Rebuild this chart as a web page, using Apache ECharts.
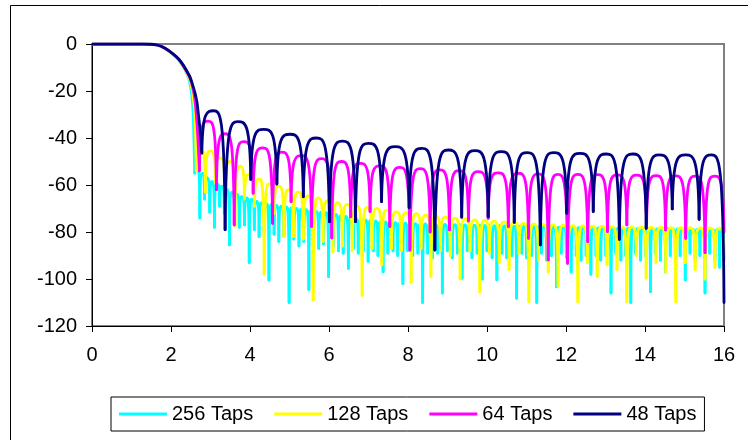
<!DOCTYPE html>
<html>
<head>
<meta charset="utf-8">
<script src="https://cdn.jsdelivr.net/npm/echarts@6/dist/echarts.min.js"></script>
<style>
  html, body { margin: 0; padding: 0; background: #fff; }
  #chart { width: 748px; height: 440px; }
</style>
</head>
<body>
<div id="chart"></div>
<script>
// Filter magnitude responses (dB) versus frequency for four tap counts.
// Each response = a pass-band/roll-off trace plus a train of stop-band lobes.
// Lobes are given by their null positions/levels and the peak level between nulls.

var seriesNames = ['256 Taps', '128 Taps', '64 Taps', '48 Taps'];
var seriesColors = ['#00FFFF', '#FFFF00', '#FF00FF', '#000080'];
var xTicks = [0, 2, 4, 6, 8, 10, 12, 14, 16];
var yTicks = [-120, -100, -80, -60, -40, -20, 0];

// ---- 48 taps ----
var t48EdgeX = [0, 0.5, 1.0, 1.3, 1.64, 1.85, 2.06, 2.2, 2.31, 2.4, 2.48, 2.55, 2.61, 2.66, 2.69, 2.72, 2.75, 2.78];
var t48EdgeY = [0, 0, 0, 0, -0.4, -1.8, -4.3, -6.5, -9, -11.5, -14, -17.5, -21, -25, -29.5, -34, -40, -46.5];
var t48NullX = [2.78, 3.37, 4.02, 4.68, 5.35, 6.01, 6.67, 7.33, 8.03, 8.68, 9.36, 10.03, 10.69, 11.35, 12.02, 12.69, 13.35, 14.03, 14.69, 15.37, 16.0];
var t48NullY = [-46.5, -79, -57.6, -59.6, -65, -75.6, -75.6, -67.1, -69.6, -87.7, -73.7, -73.5, -75.9, -85.5, -72, -71.3, -83.1, -78.4, -70.2, -74.6, -110];
var t48PeakY = [-28.4, -33, -36.3, -38.4, -40, -41.3, -42.3, -43.7, -44.4, -45.1, -45.4, -45.8, -46.2, -46.2, -46.5, -46.8, -46.8, -47.2, -47.2, -47.2];

// ---- 64 taps ----
var t64EdgeX = [0, 0.5, 1.0, 1.3, 1.64, 1.85, 2.06, 2.2, 2.31, 2.4, 2.48, 2.55, 2.6, 2.64, 2.68, 2.72];
var t64EdgeY = [0, 0, 0, 0, -0.4, -1.8, -4.4, -6.6, -9.2, -11.8, -14.5, -18.5, -23, -30, -40, -54];
var t64NullX = [2.72, 3.15, 3.60, 4.08, 4.57, 5.04, 5.56, 6.07, 6.55, 7.04, 7.54, 8.05, 8.56, 9.05, 9.53, 10.03, 10.54, 11.05, 11.55, 12.04, 12.55, 13.05, 13.54, 14.04, 14.52, 15.03, 15.52, 16.0];
var t64NullY = [-54, -62, -77, -63.5, -76.3, -67.1, -77.7, -82.5, -73.5, -71.3, -77.7, -87.7, -80, -79.1, -75.3, -74.2, -77.7, -82.7, -91.9, -93.3, -84.1, -79.8, -77, -77, -79.1, -82.7, -88.8, -80];
var t64PeakY = [-32.8, -38.2, -41.5, -44.2, -46, -47.5, -48.8, -50, -50.8, -51.9, -52.5, -53, -53.6, -53.9, -54.3, -54.8, -55, -55.3, -55.5, -55.5, -55.6, -55.7, -55.8, -56, -56.1, -56.2, -56.2];

// ---- 128 taps ----
var t128EdgeX = [0, 0.5, 1.0, 1.3, 1.64, 1.85, 2.06, 2.2, 2.31, 2.4, 2.48, 2.54, 2.59, 2.62, 2.64];
var t128EdgeY = [0, 0, 0, 0, -0.4, -1.9, -4.6, -6.8, -9.6, -12.3, -15.5, -20, -27, -38, -54];
var t128NullX = [2.64, 2.87, 3.12, 3.37, 3.62, 3.86, 4.11, 4.36, 4.61, 4.86, 5.10, 5.35, 5.60, 5.85, 6.10, 6.34, 6.59, 6.84, 7.09, 7.34,
  7.58, 7.83, 8.08, 8.33, 8.58, 8.82, 9.07, 9.32, 9.57, 9.82, 10.06, 10.31, 10.56, 10.81, 11.06, 11.30, 11.55, 11.80, 12.05, 12.30,
  12.54, 12.79, 13.04, 13.29, 13.54, 13.78, 14.03, 14.28, 14.53, 14.78, 15.02, 15.27, 15.52, 15.77, 16.0];
var t128NullY = [-54, -63, -59, -66, -77.5, -66, -69, -98, -72, -82, -82, -83, -109, -84, -88.5, -86, -88, -107, -87, -94,
  -87, -88, -101.5, -87, -99, -88, -90, -100, -88, -105.5, -89, -93, -96, -89, -109.7, -92, -97, -103, -90, -109.7,
  -93, -99, -94, -96, -109.7, -90, -99.7, -93, -97, -109.7, -93, -96, -100, -95, -92];
var t128PeakY = [-45, -45.5, -48.5, -50, -52, -55.5, -57.5, -59.5, -60.5, -62, -63, -64.5, -65.5, -66.5, -67.5, -68.3, -69, -69.5, -70, -70.7,
  -71.3, -71.8, -72.2, -72.8, -73.3, -73.7, -74.1, -74.4, -74.8, -75.1, -75.4, -75.7, -76, -76.3, -76.6, -76.9, -77, -77.2, -77.3, -77.4,
  -77.5, -77.6, -77.7, -77.8, -77.8, -77.9, -78, -78, -78.1, -78.2, -78.2, -78.3, -78.3, -78.4];

// ---- 256 taps ----
var t256EdgeX = [0, 0.5, 1.0, 1.3, 1.64, 1.85, 2.06, 2.2, 2.31, 2.4, 2.47, 2.52, 2.56, 2.58, 2.60];
var t256EdgeY = [0, 0, 0, 0, -0.4, -1.9, -4.7, -7, -9.8, -12.6, -16, -21, -29, -40, -55];
var t256NullX = [2.60, 2.73, 2.85, 2.98, 3.10, 3.23, 3.35, 3.48, 3.61, 3.73, 3.86, 3.98, 4.11, 4.23, 4.36, 4.48, 4.61, 4.73, 4.86, 4.99,
  5.11, 5.24, 5.36, 5.49, 5.61, 5.74, 5.86, 5.99, 6.11, 6.24, 6.36, 6.49, 6.62, 6.74, 6.87, 6.99, 7.12, 7.24, 7.37, 7.49,
  7.62, 7.74, 7.87, 7.99, 8.12, 8.25, 8.37, 8.50, 8.62, 8.75, 8.87, 9.00, 9.12, 9.25, 9.37, 9.50, 9.62, 9.75, 9.88, 10.00,
  10.13, 10.25, 10.38, 10.50, 10.63, 10.75, 10.88, 11.00, 11.13, 11.26, 11.38, 11.51, 11.63, 11.76, 11.88, 12.01, 12.13, 12.26, 12.38, 12.51,
  12.63, 12.76, 12.88, 13.01, 13.14, 13.26, 13.39, 13.51, 13.64, 13.76, 13.89, 14.01, 14.14, 14.26, 14.39, 14.52, 14.64, 14.77, 14.89, 15.02,
  15.14, 15.27, 15.39, 15.52, 15.64, 15.77, 15.89, 16.0];
var t256NullY = [-55, -74, -66, -71.5, -78, -69, -72, -85.5, -75, -78, -77, -93, -79, -82, -80, -100.5, -81, -84, -82, -110,
  -83, -86, -84, -104.5, -84, -87, -85, -99, -86, -88, -89, -95.5, -87, -89, -88, -92.5, -88, -90, -97, -89,
  -88, -90, -102, -88, -90, -89, -110, -89, -91, -89, -106, -88, -91, -89, -99.7, -88, -91, -89, -100, -88,
  -91, -100.4, -89, -91, -90, -108.2, -89, -91, -90, -110, -89, -92, -90, -103.3, -89, -91, -97, -90, -92, -90,
  -98, -90, -92, -90, -106, -89, -92, -90, -110, -89, -92, -90, -105.4, -89, -92, -97, -90, -92, -90, -100.4,
  -89, -92, -90, -106, -89, -92, -95, -92];
var t256PeakY = [-53, -55, -57, -58.5, -59.5, -60.5, -62, -63, -64, -65, -65.5, -66, -67, -67.5, -68, -68.3, -68.7, -69, -69.3, -69.6,
  -70, -70.2, -70.5, -70.8, -71.2, -71.5, -71.8, -72.2, -72.5, -73, -73.4, -73.7, -74.1, -74.5, -74.8, -75, -75.3, -75.5, -75.7, -75.8,
  -76, -76.1, -76.2, -76.3, -76.4, -76.5, -76.6, -76.6, -76.7, -76.7, -76.8, -76.8, -76.9, -76.9, -77, -77, -77.1, -77.1, -77.2, -77.2,
  -77.3, -77.3, -77.4, -77.4, -77.5, -77.5, -77.6, -77.6, -77.7, -77.7, -77.8, -77.8, -77.9, -77.9, -78, -78, -78.1, -78.1, -78.2, -78.2,
  -78.2, -78.3, -78.3, -78.3, -78.4, -78.4, -78.4, -78.4, -78.5, -78.5, -78.5, -78.5, -78.6, -78.6, -78.6, -78.6, -78.7, -78.7, -78.7, -78.7,
  -78.8, -78.8, -78.8, -78.8, -78.9, -78.9, -78.9];

var FONT = '"Liberation Sans", Arial, sans-serif';
var LINE_W = 2.8;

function zip(xs, ys) {
  var out = [];
  for (var i = 0; i < xs.length; i++) out.push([xs[i], ys[i]]);
  return out;
}

// One item per lobe: [left null x, left null y, right null x, right null y, peak y]
function lobeItems(nx, ny, py) {
  var out = [];
  for (var i = 0; i < py.length; i++) out.push([nx[i], ny[i], nx[i + 1], ny[i + 1], py[i]]);
  return out;
}

// Draws one lobe as an arch: steep rise out of each null, rounded top.
function lobeRenderer(color) {
  return function (params, api) {
    var x0 = api.value(0), y0 = api.value(1), x1 = api.value(2), y1 = api.value(3), yp = api.value(4);
    var a = api.coord([x0, y0]);
    var b = api.coord([x1, y1]);
    var p = api.coord([(x0 + x1) / 2, yp]);
    var w = b[0] - a[0];
    var d = 'M' + a[0] + ' ' + a[1] +
      ' C' + (a[0] + 0.03 * w) + ' ' + p[1] + ' ' + (a[0] + 0.22 * w) + ' ' + p[1] + ' ' + p[0] + ' ' + p[1] +
      ' C' + (b[0] - 0.22 * w) + ' ' + p[1] + ' ' + (b[0] - 0.03 * w) + ' ' + p[1] + ' ' + b[0] + ' ' + b[1];
    return {
      type: 'path',
      shape: { pathData: d },
      style: { fill: 'none', stroke: color, lineWidth: LINE_W, lineJoin: 'round', lineCap: 'round' }
    };
  };
}

var responses = [
  { edgeX: t256EdgeX, edgeY: t256EdgeY, nullX: t256NullX, nullY: t256NullY, peakY: t256PeakY },
  { edgeX: t128EdgeX, edgeY: t128EdgeY, nullX: t128NullX, nullY: t128NullY, peakY: t128PeakY },
  { edgeX: t64EdgeX, edgeY: t64EdgeY, nullX: t64NullX, nullY: t64NullY, peakY: t64PeakY },
  { edgeX: t48EdgeX, edgeY: t48EdgeY, nullX: t48NullX, nullY: t48NullY, peakY: t48PeakY }
];

var series = [];
responses.forEach(function (r, i) {
  var color = seriesColors[i];
  series.push({
    name: seriesNames[i],
    type: 'line',
    data: zip(r.edgeX, r.edgeY),
    smooth: 0.3,
    showSymbol: false,
    symbol: 'none',
    color: color,
    lineStyle: { color: color, width: LINE_W },
    itemStyle: { color: color },
    z: 2 + i
  });
  series.push({
    name: seriesNames[i],
    type: 'custom',
    data: lobeItems(r.nullX, r.nullY, r.peakY),
    encode: { x: [0, 2], y: [1, 3, 4] },
    renderItem: lobeRenderer(color),
    clip: false,
    color: color,
    itemStyle: { color: color },
    z: 2 + i
  });
});

var chart = echarts.init(document.getElementById('chart'), null, { renderer: 'canvas' });
chart.setOption({
  animation: false,
  backgroundColor: '#ffffff',
  textStyle: { fontFamily: FONT },
  graphic: [{
    type: 'rect',
    shape: { x: 10.5, y: 5.5, width: 800, height: 500 },
    style: { fill: 'none', stroke: '#000', lineWidth: 1 },
    silent: true
  }],
  grid: {
    left: 92, right: 24, top: 44, bottom: 114,
    show: true, borderColor: '#808080', borderWidth: 2, backgroundColor: 'transparent'
  },
  legend: {
    data: seriesNames,
    left: 111, top: 397,
    icon: 'rect', itemWidth: 48, itemHeight: 3, itemGap: 21,
    borderColor: '#000', borderWidth: 1, padding: [7, 8, 7, 8],
    textStyle: { fontFamily: FONT, fontSize: 20, color: '#000' }
  },
  xAxis: {
    type: 'value', min: xTicks[0], max: xTicks[xTicks.length - 1], interval: 2,
    axisLine: { show: true, onZero: false, lineStyle: { color: '#000', width: 1 } },
    axisTick: { show: true, inside: false, length: 6, lineStyle: { color: '#000' } },
    axisLabel: { fontFamily: FONT, fontSize: 20, color: '#000', margin: 19 },
    splitLine: { show: false }
  },
  yAxis: {
    type: 'value', min: yTicks[0], max: yTicks[yTicks.length - 1], interval: 20,
    axisLine: { show: true, onZero: false, lineStyle: { color: '#000', width: 1 } },
    axisTick: { show: true, inside: false, length: 6, lineStyle: { color: '#000' } },
    axisLabel: { fontFamily: FONT, fontSize: 20, color: '#000', margin: 15 },
    splitLine: { show: false }
  },
  series: series
});
</script>
</body>
</html>
